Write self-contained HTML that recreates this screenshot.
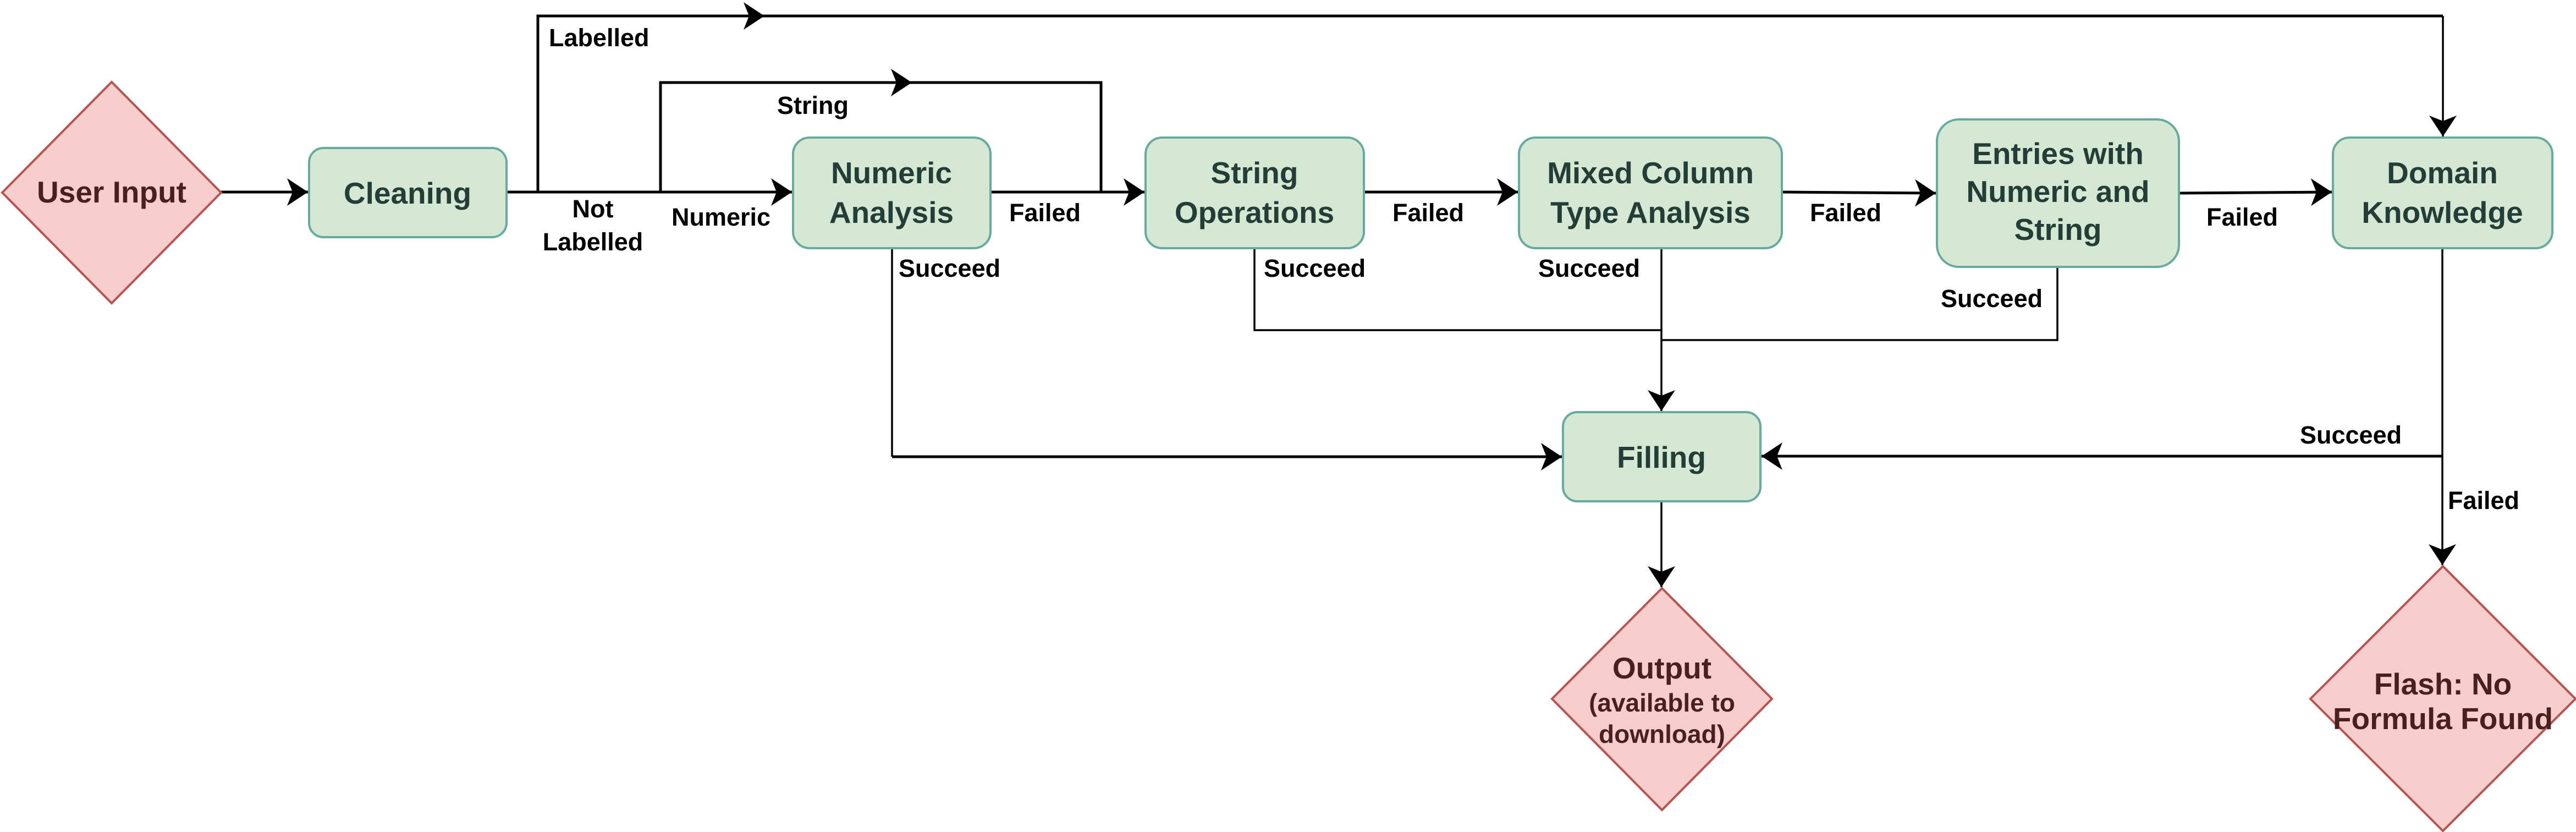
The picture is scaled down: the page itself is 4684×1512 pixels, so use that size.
<!DOCTYPE html>
<html><head><meta charset="utf-8"><style>
html,body{margin:0;padding:0;background:#fff;}
svg{display:block;}
.bt{font-family:"Liberation Sans",sans-serif;font-weight:bold;font-size:55px;fill:#243d36;text-anchor:middle;}
.rt{font-family:"Liberation Sans",sans-serif;font-weight:bold;font-size:55px;fill:#4a1f1f;text-anchor:middle;}
.lb{font-family:"Liberation Sans",sans-serif;font-weight:bold;font-size:45px;fill:#000;}
.box{fill:#d5e8d4;stroke:#67ab9f;stroke-width:4;}
.dia{fill:#f8cecc;stroke:#b85450;stroke-width:4;}
.ln{fill:none;stroke:#000;stroke-width:5;}
.lt{fill:none;stroke:#000;stroke-width:3.5;}
</style></head><body>
<svg width="4684" height="1512" viewBox="0 0 4684 1512" xmlns="http://www.w3.org/2000/svg">
<defs>
<marker id="a" markerUnits="userSpaceOnUse" markerWidth="40" markerHeight="50" refX="38" refY="25" orient="auto">
<path d="M0,0 L38,25 L0,50 L10,25 Z" fill="#000"/>
</marker>
</defs>

<!-- connectors -->
<path class="ln" d="M402,349 L560,349" marker-end="url(#a)"/>
<path class="ln" d="M921,349 L1440,349" marker-end="url(#a)"/>
<path class="ln" d="M978,349 L978,29 L1390,29"/>
<path class="ln" d="M1360,29 L4442,29" />
<path d="M1352,4 L1390,29 L1352,54 L1362,29 Z" fill="#000"/>
<path class="lt" d="M4442,29 L4442,248" marker-end="url(#a)"/>
<path class="ln" d="M1201,349 L1201,150 L2002,150 L2002,349"/>
<path d="M1620,125 L1658,150 L1620,175 L1630,150 Z" fill="#000"/>
<path class="ln" d="M1801,349 L2081,349" marker-end="url(#a)"/>
<path class="ln" d="M2480,349 L2760,349" marker-end="url(#a)"/>
<path class="ln" d="M3240,349 L3520,351" marker-end="url(#a)"/>
<path class="ln" d="M3962,351 L4240,349" marker-end="url(#a)"/>

<path class="lt" d="M1622,451 L1622,830"/>
<path class="ln" d="M1622,830 L2840,830" marker-end="url(#a)"/>
<path class="lt" d="M2281,451 L2281,600 L3021,600"/>
<path class="lt" d="M3021,451 L3021,747" marker-end="url(#a)"/>
<path class="lt" d="M3741,485 L3741,618 L3021,618"/>
<path class="lt" d="M4441,451 L4441,1027" marker-end="url(#a)"/>
<path class="ln" d="M4441,829 L3203,829" marker-end="url(#a)"/>
<path class="lt" d="M3021,911 L3021,1067" marker-end="url(#a)"/>

<!-- nodes -->
<polygon class="dia" points="203,149 402,350 203,551 4,350"/>
<text class="rt" x="203" y="368">User Input</text>

<rect class="box" x="562" y="269" width="359" height="162" rx="26"/>
<text class="bt" x="741" y="370">Cleaning</text>

<rect class="box" x="1442" y="250" width="359" height="201" rx="30"/>
<text class="bt" x="1621" y="333">Numeric</text>
<text class="bt" x="1621" y="405">Analysis</text>

<rect class="box" x="2083" y="250" width="397" height="201" rx="30"/>
<text class="bt" x="2281" y="333">String</text>
<text class="bt" x="2281" y="405">Operations</text>

<rect class="box" x="2762" y="250" width="478" height="201" rx="30"/>
<text class="bt" x="3001" y="333">Mixed Column</text>
<text class="bt" x="3001" y="405">Type Analysis</text>

<rect class="box" x="3522" y="217" width="440" height="268" rx="40"/>
<text class="bt" x="3742" y="298">Entries with</text>
<text class="bt" x="3742" y="367">Numeric and</text>
<text class="bt" x="3742" y="436">String</text>

<rect class="box" x="4242" y="250" width="399" height="201" rx="30"/>
<text class="bt" x="4441" y="333">Domain</text>
<text class="bt" x="4441" y="405">Knowledge</text>

<rect class="box" x="2842" y="749" width="359" height="162" rx="26"/>
<text class="bt" x="3021" y="850">Filling</text>

<polygon class="dia" points="3022,1069 3222,1270 3022,1472 2822,1270"/>
<text class="rt" x="3022" y="1233">Output</text>
<text class="rt" x="3022" y="1293" style="font-size:46px">(available to</text>
<text class="rt" x="3022" y="1350" style="font-size:46px">download)</text>

<polygon class="dia" points="4442,1029 4683,1270 4442,1510 4201,1270"/>
<text class="rt" x="4442" y="1262">Flash: No</text>
<text class="rt" x="4442" y="1325">Formula Found</text>

<!-- labels -->
<text class="lb" x="998" y="84">Labelled</text>
<text class="lb" x="1078" y="395" text-anchor="middle">Not</text>
<text class="lb" x="1078" y="455" text-anchor="middle">Labelled</text>
<text class="lb" x="1221" y="410">Numeric</text>
<text class="lb" x="1413" y="207">String</text>
<text class="lb" x="1835" y="402">Failed</text>
<text class="lb" x="1634" y="503">Succeed</text>
<text class="lb" x="2532" y="402">Failed</text>
<text class="lb" x="2298" y="503">Succeed</text>
<text class="lb" x="3291" y="402">Failed</text>
<text class="lb" x="2797" y="503">Succeed</text>
<text class="lb" x="4012" y="410">Failed</text>
<text class="lb" x="3529" y="558">Succeed</text>
<text class="lb" x="4182" y="806">Succeed</text>
<text class="lb" x="4451" y="925">Failed</text>
</svg>
</body></html>
